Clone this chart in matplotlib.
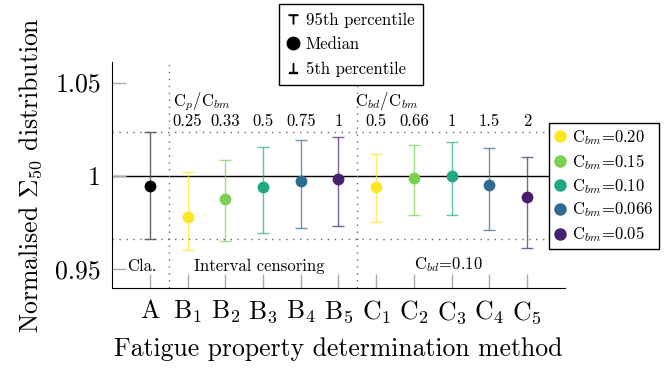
import matplotlib
matplotlib.use('Agg')
import matplotlib.pyplot as plt
from matplotlib.lines import Line2D
import numpy as np

plt.rcParams['font.family'] = 'serif'
plt.rcParams['font.serif'] = ['cmr10', 'DejaVu Serif']
plt.rcParams['mathtext.fontset'] = 'cm'
plt.rcParams['axes.unicode_minus'] = False

# Данные
methods = ['A', r'B$_1$', r'B$_2$', r'B$_3$', r'B$_4$', r'B$_5$',
           r'C$_1$', r'C$_2$', r'C$_3$', r'C$_4$', r'C$_5$']
median = [0.9947, 0.9778, 0.9876, 0.9941, 0.9973, 0.9986,
          0.9943, 0.9988, 0.9998, 0.9949, 0.9887]
p95 = [1.0236, 1.0021, 1.0085, 1.0156, 1.0190, 1.0211,
       1.0115, 1.0163, 1.0183, 1.0149, 1.0099]
p5 = [0.9663, 0.9601, 0.9649, 0.9695, 0.9723, 0.9734,
      0.9754, 0.9791, 0.9789, 0.9713, 0.9615]
cp_ratio = ['0.25', '0.33', '0.5', '0.75', '1']
cbd_ratio = ['0.5', '0.66', '1', '1.5', '2']
cbm_labels = [r'C$_{bm}$=0.20', r'C$_{bm}$=0.15', r'C$_{bm}$=0.10',
              r'C$_{bm}$=0.066', r'C$_{bm}$=0.05']
cbm_colors = ['#fde725', '#7ad151', '#22a884', '#2f6b8e', '#46216e']

fig = plt.figure(figsize=(6.68, 3.69), dpi=100)
ax = fig.add_axes([0.1677, 0.2195, 0.678, 0.6125])

x = np.arange(1, len(methods) + 1)
colors = ['black'] + cbm_colors + cbm_colors
bar_colors = ['#555555'] + cbm_colors + cbm_colors

# Опорные линии
ax.axhline(1.0, color='black', lw=1.0, zorder=1)
ax.axhline(p95[0], color='#666666', lw=1.0, ls=(0, (1, 4)), zorder=1)
ax.axhline(p5[0], color='#666666', lw=1.0, ls=(0, (1, 4)), zorder=1)
for xv in [1.5, 6.5]:
    ax.axvline(xv, color='#666666', lw=1.0, ls=(0, (1, 4)), zorder=1)

# Медианы и перцентили
for i in range(len(methods)):
    lo = median[i] - p5[i]
    hi = p95[i] - median[i]
    ax.errorbar(x[i], median[i], yerr=[[lo], [hi]], fmt='none',
                ecolor=bar_colors[i], alpha=0.7 if i > 0 else 0.9,
                elinewidth=1.0, capsize=4, capthick=1.0, zorder=2)
    ax.plot(x[i], median[i], 'o', color=colors[i], ms=8.5, mec='none', zorder=3)

# Подписи групп
fs_ann = 12
ax.text(1.62, 1.0399, r'C$_p$/C$_{bm}$', ha='left', va='center', fontsize=fs_ann)
ax.text(6.45, 1.0399, r'C$_{bd}$/C$_{bm}$', ha='left', va='center', fontsize=fs_ann)
for i, lab in enumerate(cp_ratio):
    ax.text(x[1 + i], 1.0293, lab, ha='center', va='center', fontsize=fs_ann)
for i, lab in enumerate(cbd_ratio):
    ax.text(x[6 + i], 1.0293, lab, ha='center', va='center', fontsize=fs_ann)
ax.text(0.79, 0.9517, 'Cla.', ha='center', va='center', fontsize=fs_ann)
ax.text(3.9, 0.9517, 'Interval censoring', ha='center', va='center', fontsize=fs_ann)
ax.text(8.9, 0.9525, r'C$_{bd}$=0.10', ha='center', va='center', fontsize=fs_ann)

fs = 18.5
ax.set_xlim(0, 12)
ax.set_ylim(0.94, 1.061)
ax.set_xticks(x)
ax.set_xticklabels(methods, fontsize=fs)
ax.set_yticks([0.95, 1.0, 1.05])
ax.set_yticklabels(['0.95', '1', '1.05'], fontsize=fs)
ax.tick_params(direction='in', length=10, color='#aaaaaa', width=1.0, pad=8)
ax.spines['top'].set_visible(False)
ax.spines['right'].set_visible(False)
ax.set_xlabel('Fatigue property determination method', fontsize=fs, labelpad=8)
ax.set_ylabel(r'Normalised $\Sigma_{50}$ distribution', fontsize=fs, labelpad=8)

# Легенда перцентилей
stat_handles = [
    Line2D([], [], ls='none', marker=r'$\top$', color='black', ms=6.5),
    Line2D([], [], ls='none', marker='o', color='black', ms=9),
    Line2D([], [], ls='none', marker=r'$\perp$', color='black', ms=6.5),
]
leg1 = fig.legend(stat_handles, ['95th percentile', 'Median', '5th percentile'],
                  loc='upper left', bbox_to_anchor=(279 / 668, 1 - 4 / 369),
                  fontsize=12, frameon=True, fancybox=False, edgecolor='black',
                  framealpha=1, handlelength=0.7, handletextpad=0.4,
                  labelspacing=0.55, borderpad=0.5, borderaxespad=0)
leg1.get_frame().set_linewidth(1.0)

# Легенда C_bm
cbm_handles = [Line2D([], [], ls='none', marker='o', color=c, ms=9, mec='none')
               for c in cbm_colors]
leg2 = fig.legend(cbm_handles, cbm_labels, loc='upper left',
                  bbox_to_anchor=(549 / 668, 1 - 123 / 369),
                  fontsize=12, frameon=True, fancybox=False, edgecolor='black',
                  framealpha=1, handlelength=0.7, handletextpad=0.4,
                  labelspacing=0.3, borderpad=0.3, borderaxespad=0)
leg2.get_frame().set_linewidth(1.0)

fig.savefig('out.png', dpi=100)
